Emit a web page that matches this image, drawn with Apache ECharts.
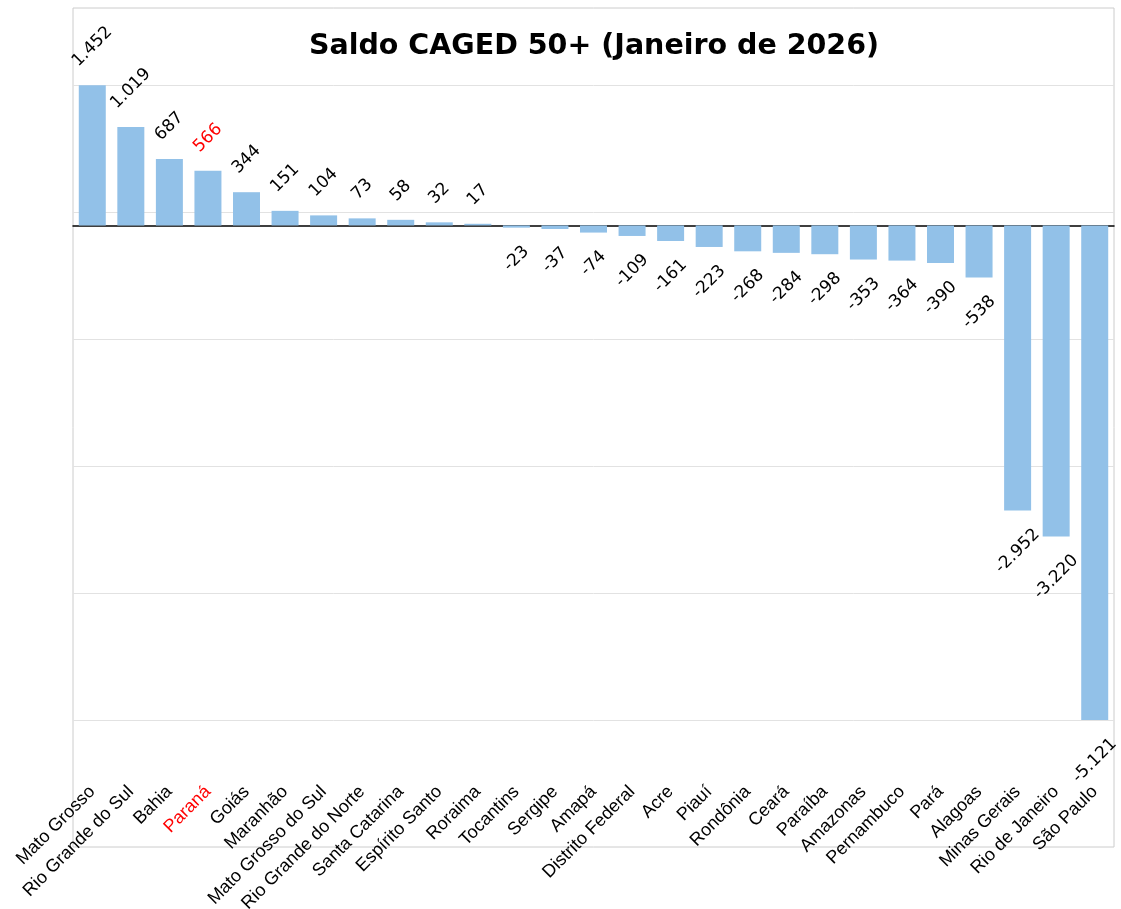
<!DOCTYPE html>
<html>
<head>
<meta charset="utf-8">
<script src="https://cdn.jsdelivr.net/npm/echarts@6/dist/echarts.min.js"></script>
<style>
  html, body { margin: 0; padding: 0; background: #fff; }
  #chart { width: 1121px; height: 909px; }
</style>
</head>
<body>
<div id="chart"></div>
<script>
let states = ['Mato Grosso', 'Rio Grande do Sul', 'Bahia', 'Paraná', 'Goiás', 'Maranhão',
  'Mato Grosso do Sul', 'Rio Grande do Norte', 'Santa Catarina', 'Espírito Santo', 'Roraima',
  'Tocantins', 'Sergipe', 'Amapá', 'Distrito Federal', 'Acre', 'Piauí', 'Rondônia', 'Ceará',
  'Paraíba', 'Amazonas', 'Pernambuco', 'Pará', 'Alagoas', 'Minas Gerais', 'Rio de Janeiro', 'São Paulo'];
let saldo = [1452, 1019, 687, 566, 344, 151, 104, 73, 58, 32, 17,
  -23, -37, -74, -109, -161, -223, -268, -284, -298, -353, -364, -390, -538, -2952, -3220, -5121];
let highlight = 'Paraná';

let barColor = '#92c1e8';
let labelFont = '17px "DejaVu Sans"';

// brazilian thousands separator
function fmt(v) {
  let s = Math.abs(v).toString().replace(/\B(?=(\d{3})+(?!\d))/g, '.');
  return (v < 0 ? '-' : '') + s;
}

let ctx = document.createElement('canvas').getContext('2d');
ctx.font = labelFont;

let dataMax = Math.max(...saldo);
let dataMin = Math.min(...saldo);
let gridValues = [];
for (let k = 0; k <= 5; k++) gridValues.push(dataMin + k * (dataMax - dataMin) / 5);

// offset is rotated with the text, so push it along the rotated axes
let barData = saldo.map((v, i) => {
  let w = ctx.measureText(fmt(v)).width;
  let d = 17 + (w + 12) / (2 * Math.SQRT2);
  let s = d * Math.SQRT1_2;
  return {
    value: v,
    label: {
      position: v >= 0 ? 'top' : 'bottom',
      offset: v >= 0 ? [s, -s] : [-s, s],
      color: states[i] === highlight ? '#ff0000' : '#000'
    }
  };
});

let chart = echarts.init(document.getElementById('chart'));

chart.setOption({
  animation: false,
  title: {
    text: 'Saldo CAGED 50+ (Janeiro de 2026)',
    left: 589,
    top: 27,
    textAlign: 'center',
    textStyle: { fontFamily: 'DejaVu Sans', fontWeight: 'bold', fontSize: 28.5, color: '#000' }
  },
  grid: {
    left: 73, right: 7, top: 8, bottom: 62,
    outerBoundsMode: 'none',
    show: true, borderColor: '#cccccc', borderWidth: 1
  },
  xAxis: [{
    type: 'category',
    data: states,
    position: 'bottom',
    offset: -66,
    axisLine: { show: false, onZero: false },
    axisTick: { show: false },
    axisLabel: {
      interval: 0,
      rotate: 45,
      margin: 8,
      fontFamily: 'Liberation Sans',
      fontSize: 18,
      color: (value) => value === highlight ? '#ff0000' : '#000'
    }
  }, {
    type: 'category',
    data: states,
    position: 'top',
    axisLine: { show: true, onZero: true, lineStyle: { color: '#000', width: 1.5 } },
    axisTick: { show: false },
    axisLabel: { show: false }
  }],
  yAxis: {
    type: 'value',
    min: -6435,
    max: 2251,
    axisLine: { show: false },
    axisTick: { show: false },
    axisLabel: { show: false },
    splitLine: { show: false }
  },
  series: [{
    type: 'bar',
    data: barData,
    barWidth: 27,
    itemStyle: { color: barColor },
    label: {
      show: true,
      distance: 0,
      rotate: 45,
      align: 'center',
      verticalAlign: 'middle',
      fontFamily: 'DejaVu Sans',
      fontSize: 17,
      formatter: (p) => fmt(p.value)
    },
    markLine: {
      z: 1,
      silent: true,
      symbol: 'none',
      label: { show: false },
      lineStyle: { color: '#e2e2e2', width: 1, type: 'solid' },
      data: gridValues.map(v => ({ yAxis: v }))
    }
  }]
});
</script>
</body>
</html>
